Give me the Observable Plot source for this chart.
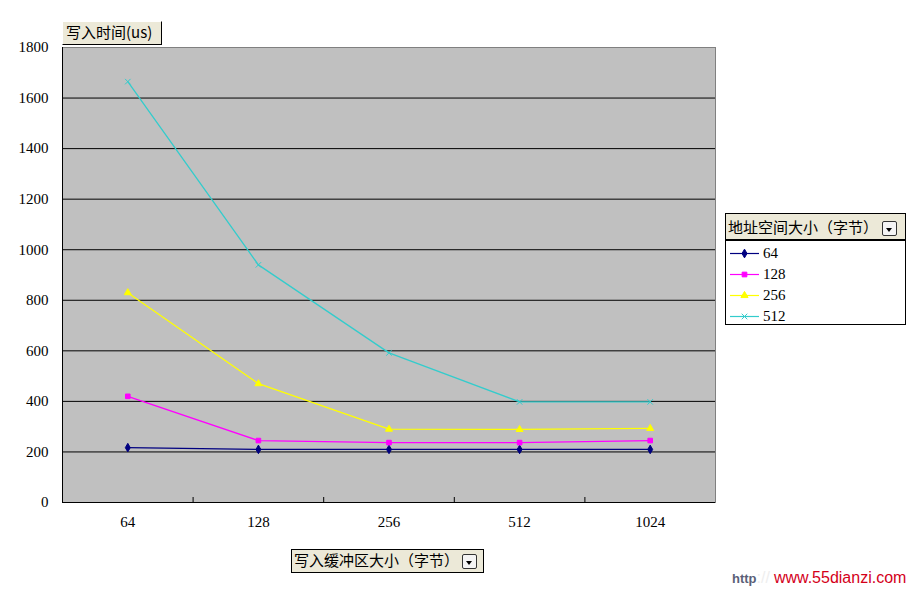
<!DOCTYPE html>
<html>
<head>
<meta charset="utf-8">
<script src="https://cdn.jsdelivr.net/npm/d3@7"></script>
<script src="https://cdn.jsdelivr.net/npm/@observablehq/plot@0.6"></script>
<style>
  body { margin: 0; background: #fff; }
  #wrap { position: relative; width: 911px; height: 592px; overflow: hidden; font-family: "Noto Sans CJK SC", sans-serif; }
  #chart { position: absolute; left: 0; top: 0; }
  .btnbox { position: absolute; background: #ECE9D8; border: 1px solid #000; box-sizing: border-box; font-size: 15px; line-height: 20px; color: #000; white-space: nowrap; }
  .dd { display: inline-block; width: 15px; height: 15px; border: 1px solid #333; border-radius: 2px; background: #f4f4f4; vertical-align: middle; position: relative; box-sizing: border-box; }
  .dd::after { content: ""; position: absolute; left: 3px; top: 6px; border-left: 3.5px solid transparent; border-right: 3.5px solid transparent; border-top: 4px solid #000; }
  #legend { position: absolute; left: 725px; top: 213px; width: 181px; height: 112px; border: 1px solid #000; box-sizing: border-box; background: #fff; }
  #legend .hdr { background: #ECE9D8; height: 25px; border-bottom: 2px solid #000; font-size: 15px; line-height: 25px; padding-left: 2px; white-space: nowrap; }
  #legend .row { height: 21px; display: flex; align-items: center; font-family: "Liberation Serif", serif; font-size: 15px; }
  #wm { position: absolute; left: 732px; top: 569px; font-family: "Liberation Sans", Arial, sans-serif; font-size: 16px; }
</style>
</head>
<body>
<div id="wrap">
  <div id="chart"></div>
  <div class="btnbox" style="left:62px; top:21px; width:100px; height:24px; padding-left:3px; border-color:#000; border-top-color:#fff; border-left-color:#fff;">写入时间(us)</div>
  <div id="legend"><div class="hdr">地址空间大小（字节）<span class="dd" style="margin-left:4px"></span></div><div id="rows" style="padding-top:2px"></div></div>
  <div class="btnbox" style="left:291px; top:549px; width:193px; height:24px; padding-left:2px;">写入缓冲区大小（字节）<span class="dd" style="margin-left:3px"></span></div>
  <div id="wm"><span style="color:#5a5f78; font-weight:bold; font-size:13px;">http</span><span style="color:#eeeeee;">://</span><span style="color:#d4001a; margin-left:4px;">www.55dianzi.com</span></div>
</div>
<script>
const categories = ["64", "128", "256", "512", "1024"];
const seriesNames = ["64", "128", "256", "512"];
const series64 = [217, 210, 210, 210, 210];
const series128 = [420, 245, 237, 237, 245];
const series256 = [830, 470, 290, 289, 293];
const series512 = [1665, 940, 592, 398, 398];
const yTicks = [0, 200, 400, 600, 800, 1000, 1200, 1400, 1600, 1800];
const colors = ["#000080", "#FF00FF", "#FFFF00", "#33CCCC"];
const symbols = ["diamond", "square", "triangle", "times"];

const allSeries = [series64, series128, series256, series512];
const data = [];
allSeries.forEach((vals, s) => vals.forEach((v, i) => data.push({series: seriesNames[s], i, value: v})));
const boundaries = categories.slice(1).map((_, i) => i + 0.5);

const plot = Plot.plot({
  width: 911,
  height: 592,
  marginLeft: 62,
  marginRight: 196,
  marginTop: 47,
  marginBottom: 90,
  style: {background: "transparent", fontFamily: "Liberation Serif, serif", fontSize: "15px", color: "#000"},
  x: {domain: [-0.5, categories.length - 0.5]},
  y: {domain: [0, 1800]},
  color: {domain: seriesNames, range: colors},
  symbol: {domain: seriesNames, range: symbols},
  marks: [
    Plot.frame({fill: "#C0C0C0", stroke: "#808080"}),
    Plot.ruleY(yTicks.filter(d => d > 0 && d < 1800), {stroke: "#000", strokeWidth: 1}),
    Plot.ruleY([0], {stroke: "#000"}),
    Plot.ruleX([-0.5], {stroke: "#000"}),
    Plot.axisY(yTicks, {tickSize: 0, tickPadding: 14, label: null, fontSize: 15, tickFormat: d => String(d)}),
    Plot.axisX(categories.map((_, i) => i), {tickSize: 0, tickPadding: 14, tickFormat: i => categories[i], label: null, fontSize: 15}),
    Plot.axisX(boundaries, {tickSize: 5, dy: -5, tickFormat: () => "", label: null, stroke: "#000"}),
    Plot.line(data, {x: "i", y: "value", z: "series", stroke: "series", strokeWidth: 1.3}),
    Plot.dot(data, {x: "i", y: "value", symbol: "series", fill: "series", stroke: "series", r: 2.6, strokeWidth: 1})
  ]
});
document.getElementById("chart").appendChild(plot);

// legend rows
const rows = d3.select("#rows");
seriesNames.forEach((name, s) => {
  const row = rows.append("div").attr("class", "row");
  const svg = row.append("svg").attr("width", 34).attr("height", 21).style("margin-left", "3px");
  svg.append("line").attr("x1", 1).attr("x2", 30).attr("y1", 10.5).attr("y2", 10.5).attr("stroke", colors[s]).attr("stroke-width", 1.2);
  const sym = {diamond: d3.symbolDiamond, square: d3.symbolSquare, triangle: d3.symbolTriangle, times: d3.symbolTimes}[symbols[s]];
  svg.append("path").attr("d", d3.symbol(sym, 22)()).attr("transform", "translate(15.5,10.5)").attr("fill", colors[s]).attr("stroke", colors[s]);
  row.append("span").text(name);
});
</script>
</body>
</html>
